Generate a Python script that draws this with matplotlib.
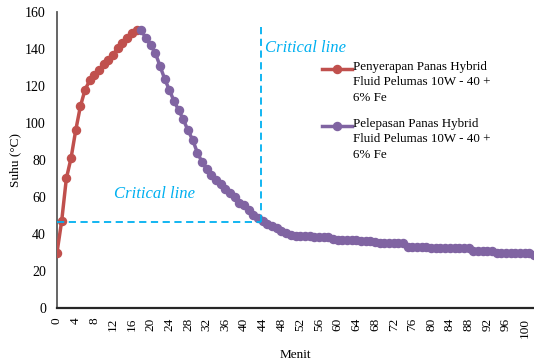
import numpy as np
import matplotlib
matplotlib.use("Agg")
from matplotlib import pyplot as plt
from matplotlib.lines import Line2D

plt.rcParams['font.family'] = ['Liberation Serif', 'DejaVu Serif']

# heating (red): minutes 0..17
menit_serap = list(range(0, 18))
suhu_serap = [30, 47, 70, 81, 96, 109, 118, 123, 126, 128.5, 132, 134, 137, 140.5, 143, 146, 148.5, 150]

# cooling (purple): minutes 18..102
menit_lepas = list(range(18, 103))
suhu_lepas = [150, 146, 142, 138, 131, 124, 118, 112, 107, 102,
              96, 91, 84, 79, 75, 72, 69, 67, 64.5, 62,
              60, 57, 55.5, 53, 50.5, 48.5, 47, 45.5, 44.5, 43,
              41.5, 40.5, 39.5, 39, 39, 39, 39, 38.5, 38.5, 38.5,
              38.5, 37.5, 37, 37, 36.5, 36.5, 36.5, 36, 36, 36,
              35.5, 35, 35, 35, 35, 35, 35, 33, 33, 33,
              33, 33, 32.5, 32.5, 32.5, 32.5, 32.5, 32.5, 32.5, 32.5,
              32.5, 31, 31, 31, 31, 31, 30, 30, 30, 30,
              30, 30, 30, 30, 28.5]

label_serap = "Penyerapan Panas Hybrid\nFluid Pelumas 10W - 40 +\n6% Fe"
label_lepas = "Pelepasan Panas Hybrid\nFluid Pelumas 10W - 40 +\n6% Fe"

# critical line position
krit_x = 43.7
krit_y = 46.7
krit_top = 153

merah = '#C0504D'
ungu = '#8064A2'
biru = '#00B0F0'

fig = plt.figure(figsize=(5.34, 3.61), dpi=100)
ax = fig.add_axes([57/534, 53/361, 477/534, 296/361])

ax.plot(menit_serap, suhu_serap, '-o', color=merah, lw=2.5, ms=5.8, zorder=3)
ax.plot(menit_lepas, suhu_lepas, '-o', color=ungu, lw=2.5, ms=5.8, zorder=3)

ax.plot([0, krit_x], [krit_y, krit_y], '--', color=biru, lw=1.3, dashes=(4, 2.5), zorder=4)
ax.plot([krit_x, krit_x], [krit_y, krit_top], '--', color=biru, lw=1.3, dashes=(4, 2.5), zorder=4)
ax.text(44.5, 140.5, "Critical line", color=biru, fontsize=12, style='italic', va='center')
ax.text(12.2, 61.5, "Critical line", color=biru, fontsize=12, style='italic', va='center')

ax.set_xlim(0, 102)
ax.set_ylim(0, 160)
ax.set_xticks(np.arange(0, 101, 4))
ax.set_yticks(np.arange(0, 161, 20))
ax.tick_params(axis='x', length=0, pad=7, labelsize=9.5, rotation=90)
ax.tick_params(axis='y', length=0, pad=8, labelsize=10)
for s in ['top', 'right']:
    ax.spines[s].set_visible(False)
ax.spines['left'].set_color('#595959')
ax.spines['left'].set_linewidth(1.3)
ax.spines['bottom'].set_color('#262626')
ax.spines['bottom'].set_linewidth(1.6)

ax.set_xlabel("Menit", fontsize=9.5, labelpad=8)
ax.set_ylabel("Suhu (°C)", fontsize=9.5, labelpad=3)

# legend drawn by hand so the marker sits on the first line
for (yy, warna, teks) in [(69, merah, label_serap), (126, ungu, label_lepas)]:
    fy = 1 - yy/361
    fig.add_artist(Line2D([322/534, 352/534], [fy, fy], color=warna, lw=2.5))
    fig.add_artist(Line2D([337/534], [fy], marker='o', color=warna, ms=5.8))
    fig.text(353/534, fy + 8/361, teks, fontsize=9.4, va='top', ha='left', linespacing=1.38)

fig.savefig("out.png", dpi=100)
